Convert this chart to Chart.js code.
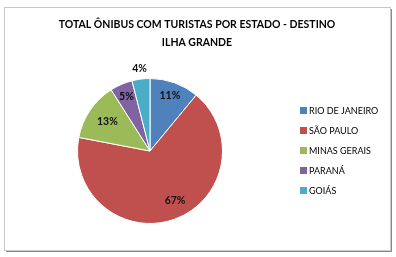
<!DOCTYPE html>
<html><head><meta charset="utf-8">
<script src="https://cdn.jsdelivr.net/npm/chart.js@4"></script>
<style>html,body{margin:0;padding:0;background:#fff}#c{display:block}</style>
</head><body>
<canvas id="c" width="396" height="257"></canvas>
<script>
const titleLines = ["TOTAL ÔNIBUS COM TURISTAS POR ESTADO - DESTINO", "ILHA GRANDE"];
const categories = ["RIO DE JANEIRO", "SÃO PAULO", "MINAS GERAIS", "PARANÁ", "GOIÁS"];
const values = [11, 67, 13, 5, 4];
const colors = ["#4F81BD", "#C0504D", "#9BBB59", "#8064A2", "#4BACC6"];

const deco = {
  id: 'deco',
  beforeDraw(chart) {
    const ctx = chart.ctx;
    ctx.save();
    ctx.fillStyle = '#fff';
    ctx.fillRect(0, 0, chart.width, chart.height);
    ctx.fillStyle = '#8a8a8a';
    ctx.fillRect(6, 250, 386, 2);
    ctx.fillRect(390, 9, 2, 243);
    ctx.strokeStyle = '#c8c8c8';
    ctx.lineWidth = 1;
    ctx.strokeRect(4.5, 7.5, 386, 243);
    ctx.restore();
  },
  afterDraw(chart) {
    const ctx = chart.ctx;
    ctx.save();
    ctx.fillStyle = '#000';
    ctx.textAlign = 'center';
    ctx.textBaseline = 'middle';
    ctx.font = 'bold 10.5px Lato, "Open Sans", sans-serif';
    ctx.fillText(titleLines[0], 197, 25);
    ctx.fillText(titleLines[1], 197, 43);
    const meta = chart.getDatasetMeta(0);
    const total = values.reduce((a, b) => a + b, 0);
    ctx.font = 'bold 10.5px Lato, "Open Sans", sans-serif';
    const fac = [0.81, 0.77, 0.71, 0.82, 1.15];
    const rot = [0, -0.12, 0, 0, 0];
    meta.data.forEach((arc, i) => {
      const mid = (arc.startAngle + arc.endAngle) / 2 + rot[i];
      const r = arc.outerRadius * fac[i];
      const x = arc.x + Math.cos(mid) * r;
      const y = arc.y + Math.sin(mid) * r;
      ctx.fillStyle = '#111';
      ctx.fillText(Math.round(values[i] / total * 100) + '%', x, y);
    });
    ctx.textAlign = 'left';
    ctx.font = '9px Lato, "Open Sans", sans-serif';
    categories.forEach((c, i) => {
      const y = 110 + i * 20;
      ctx.fillStyle = colors[i];
      ctx.fillRect(300, y - 3, 7, 7);
      ctx.fillStyle = '#000';
      ctx.fillText(c, 309, y + 1);
    });
    ctx.restore();
  }
};

new Chart(document.getElementById('c'), {
  type: 'pie',
  data: {
    labels: categories,
    datasets: [{ data: values, backgroundColor: colors, borderColor: '#fff', borderWidth: 1 }]
  },
  options: {
    responsive: false,
    animation: false,
    layout: { padding: { left: 77, top: 77, right: 173, bottom: 32 } },
    plugins: { legend: { display: false }, tooltip: { enabled: false }, title: { display: false } }
  },
  plugins: [deco]
});
</script>
</body></html>
